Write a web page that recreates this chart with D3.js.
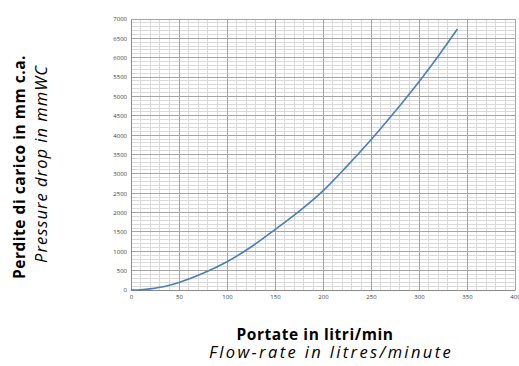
<!DOCTYPE html>
<html>
<head>
<meta charset="utf-8">
<script src="https://d3js.org/d3.v7.min.js"></script>
<style>
  body { margin: 0; background: #fff; }
  svg { display: block; }
</style>
</head>
<body>
<div id="chart"></div>
<script>
// flow rate (l/min) and pressure drop (mmWC)
var flowRate = [0, 10, 20, 30, 40, 50, 75, 100, 125, 150, 175, 200, 225, 250, 275, 300, 320, 340];
var pressureDrop = [0, 8, 30, 70, 125, 195, 430, 730, 1110, 1560, 2030, 2560, 3200, 3880, 4610, 5380, 6040, 6740];
var xTicks = [0, 50, 100, 150, 200, 250, 300, 350, 400];
var yTicks = [0, 500, 1000, 1500, 2000, 2500, 3000, 3500, 4000, 4500, 5000, 5500, 6000, 6500, 7000];

var width = 519, height = 366;
var margin = { left: 131, right: 4, top: 19, bottom: 76 };
var font = "'Open Sans', Lato, sans-serif";

var svg = d3.select("#chart").append("svg")
  .attr("width", width)
  .attr("height", height);

var x = d3.scaleLinear().domain([0, 400]).range([margin.left, width - margin.right]);
var y = d3.scaleLinear().domain([0, 7000]).range([height - margin.bottom, margin.top]);

var grid = svg.append("g");

// minor grid
grid.selectAll("line.vminor")
  .data(d3.range(0, 401, 10).filter(function(d) { return d % 50 !== 0; }))
  .enter().append("line")
  .attr("x1", function(d) { return x(d); })
  .attr("x2", function(d) { return x(d); })
  .attr("y1", y(0)).attr("y2", y(7000))
  .attr("stroke", "#dadada").attr("stroke-width", 1).attr("shape-rendering", "crispEdges");

grid.selectAll("line.hminor")
  .data(d3.range(0, 7001, 100).filter(function(d) { return d % 500 !== 0; }))
  .enter().append("line")
  .attr("y1", function(d) { return y(d); })
  .attr("y2", function(d) { return y(d); })
  .attr("x1", x(0)).attr("x2", x(400))
  .attr("stroke", "#dadada").attr("stroke-width", 1).attr("shape-rendering", "crispEdges");

// major grid
grid.selectAll("line.vmajor")
  .data(xTicks)
  .enter().append("line")
  .attr("x1", function(d) { return x(d); })
  .attr("x2", function(d) { return x(d); })
  .attr("y1", y(0)).attr("y2", y(7000))
  .attr("stroke", "#a6a6a6").attr("stroke-width", 1).attr("shape-rendering", "crispEdges");

grid.selectAll("line.hmajor")
  .data(yTicks)
  .enter().append("line")
  .attr("y1", function(d) { return y(d); })
  .attr("y2", function(d) { return y(d); })
  .attr("x1", x(0)).attr("x2", x(400))
  .attr("stroke", "#a6a6a6").attr("stroke-width", 1).attr("shape-rendering", "crispEdges");

// axes
var xAxis = svg.append("g")
  .attr("transform", "translate(0," + y(0) + ")")
  .call(d3.axisBottom(x).tickValues(xTicks).tickFormat(d3.format("d")).tickSize(0).tickPadding(5));
var yAxis = svg.append("g")
  .attr("transform", "translate(" + x(0) + ",0)")
  .call(d3.axisLeft(y).tickValues(yTicks).tickFormat(d3.format("d")).tickSize(0).tickPadding(4));

[xAxis, yAxis].forEach(function(a) {
  a.select(".domain").attr("stroke", "#8c8c8c");
  a.selectAll("text")
    .attr("font-family", font)
    .attr("font-size", "6px")
    .attr("fill", "#404040");
});

// curve
var pts = flowRate.map(function(d, i) { return [d, pressureDrop[i]]; });
svg.append("path")
  .datum(pts)
  .attr("fill", "none")
  .attr("stroke", "#4a7ebb")
  .attr("stroke-width", 1.6)
  .attr("d", d3.line()
    .x(function(d) { return x(d[0]); })
    .y(function(d) { return y(d[1]); })
    .curve(d3.curveMonotoneX));

// widen/narrow a title with letter spacing so it spans about the same as the original
function fitWidth(sel, target) {
  var w = sel.node().getComputedTextLength();
  var n = sel.text().length;
  sel.attr("letter-spacing", ((target - w) / n).toFixed(2) + "px");
}

var t1 = svg.append("text")
  .attr("x", 315).attr("y", 340)
  .attr("text-anchor", "middle")
  .attr("font-family", font).attr("font-weight", "bold").attr("font-size", "15.5px")
  .attr("fill", "#000")
  .text("Portate in litri/min");
fitWidth(t1, 157);
var t2 = svg.append("text")
  .attr("x", 331).attr("y", 358)
  .attr("text-anchor", "middle")
  .attr("font-family", font).attr("font-style", "italic").attr("font-size", "16.5px")
  .attr("fill", "#000")
  .text("Flow-rate in litres/minute");
fitWidth(t2, 244);

var t3 = svg.append("text")
  .attr("transform", "translate(25,167) rotate(-90)")
  .attr("text-anchor", "middle")
  .attr("font-family", font).attr("font-weight", "bold").attr("font-size", "15.5px")
  .attr("fill", "#000")
  .text("Perdite di carico in mm c.a.");
fitWidth(t3, 224);
var t4 = svg.append("text")
  .attr("transform", "translate(47,164) rotate(-90)")
  .attr("text-anchor", "middle")
  .attr("font-family", font).attr("font-style", "italic").attr("font-size", "16.5px")
  .attr("fill", "#000")
  .text("Pressure drop in mmWC");
fitWidth(t4, 198);
</script>
</body>
</html>
